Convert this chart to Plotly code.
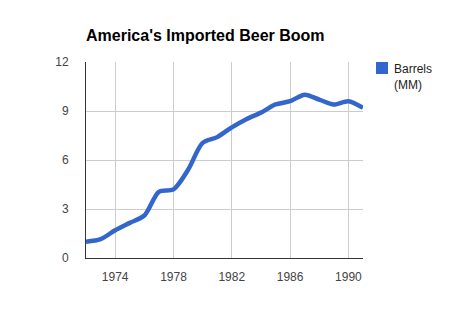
import plotly.graph_objects as go

title_text = "America's Imported Beer Boom"
series_name = "Barrels<br>(MM)"
years = list(range(1972, 1992))
barrels = [1.0, 1.15, 1.7, 2.15, 2.6, 4.05, 4.2, 5.4, 7.05, 7.4,
           8.0, 8.5, 8.9, 9.4, 9.6, 10.0, 9.7, 9.4, 9.6, 9.2]
x_tickvals = [1974, 1978, 1982, 1986, 1990]
y_tickvals = [0, 3, 6, 9, 12]

blue = "#3366cc"
font_family = "Arial, Liberation Sans, sans-serif"

fig = go.Figure()
fig.add_trace(go.Scatter(
    x=years, y=barrels, mode="lines",
    line=dict(color=blue, width=4.5, shape="spline", smoothing=0.8),
    showlegend=False, hoverinfo="skip",
))

fig.update_layout(
    width=450, height=320,
    margin=dict(l=86, r=87, t=62, b=62),
    paper_bgcolor="white", plot_bgcolor="white",
    font=dict(family=font_family, size=12, color="#444"),
    title=dict(text="<b>" + title_text + "</b>", x=86/450, xanchor="left",
               y=1 - 35/320, yanchor="middle",
               font=dict(family=font_family, size=16, color="#000")),
    showlegend=False,
)
fig.update_xaxes(
    range=[1972, 1991], tickvals=x_tickvals, ticktext=[str(v) for v in x_tickvals],
    showgrid=True, gridcolor="#cccccc", gridwidth=1,
    showline=True, linecolor="#333333", linewidth=1,
    ticks="", ticklabelstandoff=8, zeroline=False,
    tickfont=dict(size=12, color="#444"),
)
fig.update_yaxes(
    range=[0, 12], tickvals=y_tickvals,
    showgrid=True, gridcolor="#cccccc", gridwidth=1,
    showline=True, linecolor="#333333", linewidth=1,
    ticks="", ticklabelstandoff=14, zeroline=False,
    tickfont=dict(size=12, color="#444"),
)

# legend: square swatch + text
px0 = 86
pw = 450 - 86 - 87
def xp(px):
    return (px - px0) / pw
ph = 320 - 62 - 62
def yp(py):
    return (320 - 62 - py) / ph

fig.add_shape(type="rect", xref="paper", yref="paper",
              x0=xp(376), x1=xp(388), y0=yp(74), y1=yp(62),
              fillcolor=blue, line=dict(width=0))
fig.add_annotation(xref="paper", yref="paper", x=xp(392), y=yp(60),
                   xanchor="left", yanchor="top", showarrow=False, align="left",
                   text=series_name, font=dict(size=12, color="#222"))

fig.write_html("out.html")
